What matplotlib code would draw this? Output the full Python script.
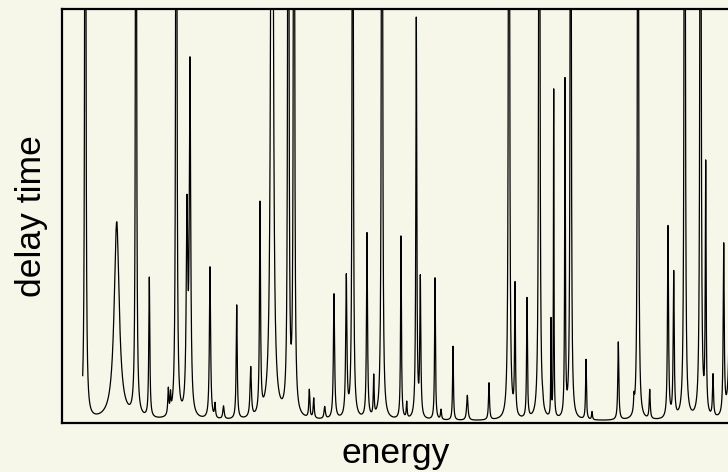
import numpy as np
import matplotlib
matplotlib.use("Agg")
import matplotlib.pyplot as plt

# Resonance list: energy position, peak delay time, half width
peak_energy = [85.3, 116.7, 136.0, 149.3, 168.3, 170.5, 176.3, 187.0, 190.0, 210.0,
               215.0, 223.5, 236.7, 250.7, 260.0, 272.0, 288.3, 294.0, 309.3, 313.7,
               324.7, 334.0, 346.3, 352.7, 367.0, 373.7, 382.0, 401.0, 406.7, 416.3,
               420.3, 435.0, 441.0, 453.0, 467.3, 489.0, 509.0, 515.0, 527.0, 539.3,
               542.7, 551.0, 553.7, 565.0, 570.7, 586.0, 592.0, 618.3, 634.0, 638.0,
               649.7, 668.0, 673.7, 684.7, 700.5, 705.7, 713.0, 723.7, 731.0]
peak_height = [1500, 198, 1500, 140, 26, 18, 1500, 200, 345, 152,
               14, 13, 114, 50, 210, 1500, 1500, 1500, 28, 20,
               12, 125, 140, 1500, 185, 40, 1500, 183, 16, 400,
               138, 142, 10, 74, 25, 37, 1500, 130, 120, 1500,
               6, 96, 328, 335, 1500, 60, 8, 78, 14, 1500,
               29, 192, 145, 1500, 1500, 248, 42, 170, 1500]
peak_width = [0.45, 3.0, 0.4, 0.6, 0.6, 0.5, 0.45, 0.9, 0.8, 0.7,
              0.6, 0.8, 0.6, 0.8, 0.6, 0.9, 0.45, 0.45, 0.6, 0.6,
              0.8, 0.7, 0.7, 0.4, 0.6, 0.5, 0.45, 0.5, 0.5, 0.55,
              0.6, 0.5, 0.6, 0.5, 0.8, 0.6, 0.45, 0.5, 0.5, 0.45,
              0.5, 0.3, 0.3, 0.4, 0.4, 0.5, 0.5, 0.6, 0.5, 0.4,
              0.6, 0.6, 0.6, 0.45, 0.45, 0.5, 0.6, 0.6, 0.5]
energy_start, energy_stop = 82.7, 745.0

energy = np.linspace(energy_start, energy_stop, 40000)
delay = np.zeros_like(energy)
for e0, h, g in zip(peak_energy, peak_height, peak_width):
    delay += h * g**2 / ((energy - e0) ** 2 + g**2)

bg = "#f7f7e9"
fig = plt.figure(figsize=(7.28, 4.72), dpi=100, facecolor=bg)
ax = fig.add_axes([62 / 728, 1 - 423 / 472, (745 - 62) / 728, (423 - 9) / 472])
ax.set_facecolor(bg)
ax.plot(energy, delay, color="black", lw=0.9)
ax.set_xlim(62, 745)
ax.set_ylim(-2, 412)
ax.set_xticks([])
ax.set_yticks([])
for s in ax.spines.values():
    s.set_linewidth(1.6)
    s.set_color("black")
font = dict(family="Liberation Sans", fontsize=25.5)
fig.text(396 / 728, 1 - 453 / 472, "energy", ha="center", va="center", **font)
fig.text(31 / 728, 1 - 216 / 472, "delay time", ha="center", va="center", rotation=90, **font)
fig.savefig("out.png", dpi=100, facecolor=bg)
